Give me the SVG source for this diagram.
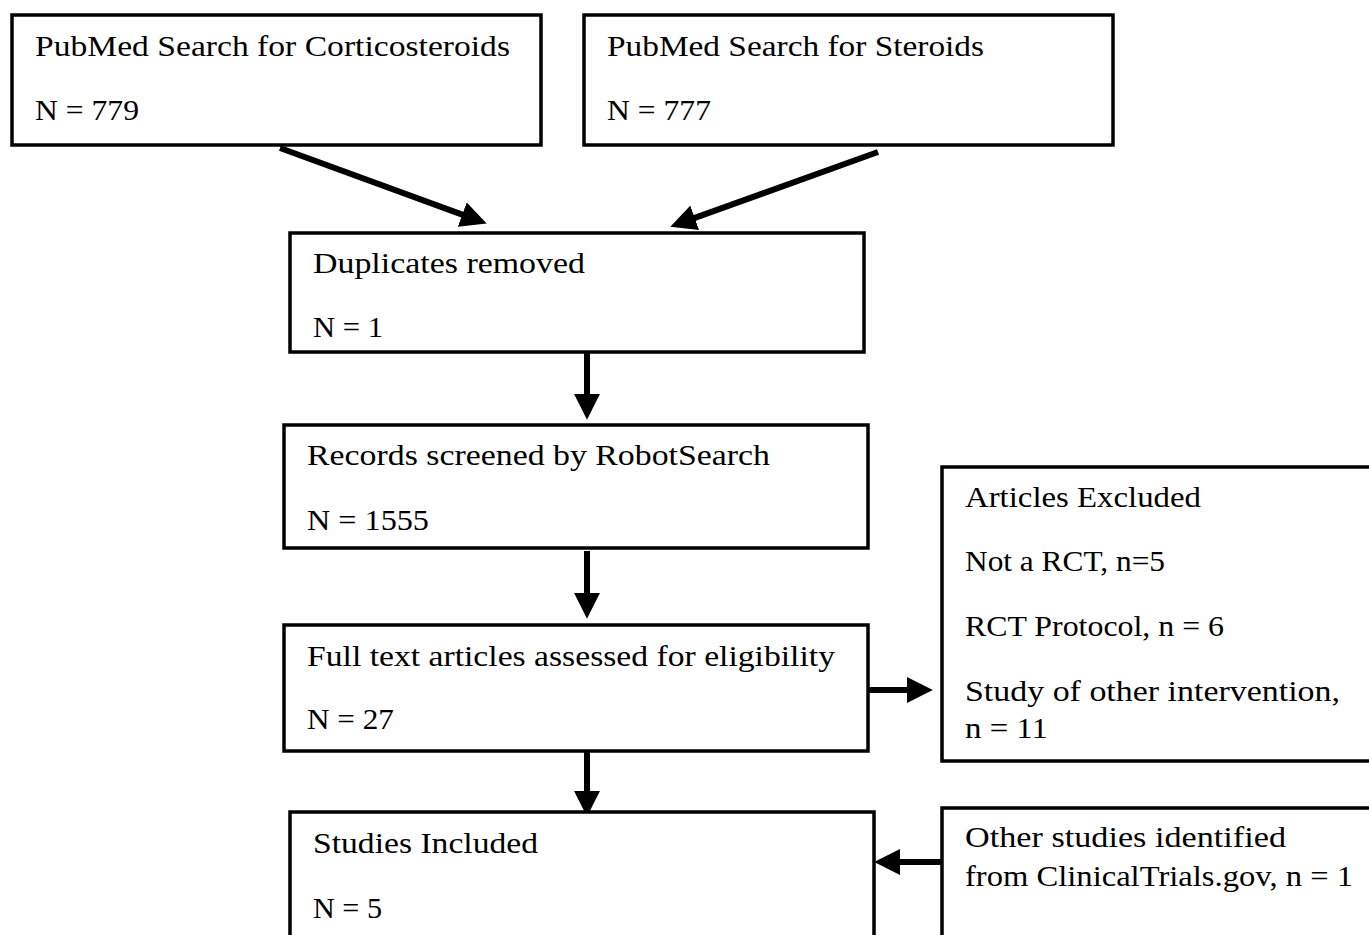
<svg xmlns="http://www.w3.org/2000/svg" width="1369" height="935" viewBox="0 0 1369 935">
<defs>
<style>
.box{fill:#fff;stroke:#000;stroke-width:3.5}
.t{font-family:"Liberation Serif","Times New Roman",serif;font-size:29px;fill:#000}
.c{stroke:#000;stroke-width:6;fill:none}
</style>
<marker id="ah" markerUnits="userSpaceOnUse" markerWidth="26" markerHeight="26" refX="2" refY="12" orient="auto" viewBox="0 0 24 24">
<path d="M0,0 L24,12 L0,24 Z" fill="#000"/>
</marker>
</defs>
<rect width="1369" height="935" fill="#fff"/>
<g id="connectors">
<line class="c" x1="280" y1="148" x2="464.3" y2="215.4" marker-end="url(#ah)"/>
<line class="c" x1="878" y1="152" x2="692.7" y2="218.6" marker-end="url(#ah)"/>
<line class="c" x1="587" y1="353" x2="587" y2="396" marker-end="url(#ah)"/>
<line class="c" x1="587" y1="551" x2="587" y2="595" marker-end="url(#ah)"/>
<line class="c" x1="587" y1="752" x2="587" y2="793" marker-end="url(#ah)"/>
<line class="c" x1="868" y1="690" x2="909" y2="690" marker-end="url(#ah)"/>
<line class="c" x1="943" y1="862" x2="898" y2="862" marker-end="url(#ah)"/>
</g>
<g id="n1">
<rect class="box" x="12" y="15" width="529" height="130"/>
<text class="t" x="35" y="56" textLength="475" lengthAdjust="spacingAndGlyphs">PubMed Search for Corticosteroids</text>
<text class="t" x="35" y="120" textLength="104" lengthAdjust="spacingAndGlyphs">N = 779</text>
</g>
<g id="n2">
<rect class="box" x="584" y="15" width="529" height="130"/>
<text class="t" x="607" y="56" textLength="377" lengthAdjust="spacingAndGlyphs">PubMed Search for Steroids</text>
<text class="t" x="607" y="120" textLength="104" lengthAdjust="spacingAndGlyphs">N = 777</text>
</g>
<g id="n3">
<rect class="box" x="290" y="233" width="574" height="119"/>
<text class="t" x="313" y="273" textLength="272" lengthAdjust="spacingAndGlyphs">Duplicates removed</text>
<text class="t" x="313" y="337" textLength="70" lengthAdjust="spacingAndGlyphs">N = 1</text>
</g>
<g id="n4">
<rect class="box" x="284" y="425" width="584" height="123"/>
<text class="t" x="307" y="465" textLength="463" lengthAdjust="spacingAndGlyphs">Records screened by RobotSearch</text>
<text class="t" x="307" y="530" textLength="122" lengthAdjust="spacingAndGlyphs">N = 1555</text>
</g>
<g id="n5">
<rect class="box" x="284" y="625" width="584" height="126"/>
<text class="t" x="307" y="666" textLength="528" lengthAdjust="spacingAndGlyphs">Full text articles assessed for eligibility</text>
<text class="t" x="307" y="729" textLength="87" lengthAdjust="spacingAndGlyphs">N = 27</text>
</g>
<g id="n6">
<rect class="box" x="942" y="467" width="440" height="294"/>
<text class="t" x="965" y="507" textLength="236" lengthAdjust="spacingAndGlyphs">Articles Excluded</text>
<text class="t" x="965" y="571" textLength="200" lengthAdjust="spacingAndGlyphs">Not a RCT, n=5</text>
<text class="t" x="965" y="636" textLength="259" lengthAdjust="spacingAndGlyphs">RCT Protocol, n = 6</text>
<text class="t" x="965" y="701" textLength="375" lengthAdjust="spacingAndGlyphs">Study of other intervention,</text>
<text class="t" x="965" y="738" textLength="83" lengthAdjust="spacingAndGlyphs">n = 11</text>
</g>
<g id="n7">
<rect class="box" x="290" y="812" width="584" height="140"/>
<text class="t" x="313" y="853" textLength="225" lengthAdjust="spacingAndGlyphs">Studies Included</text>
<text class="t" x="313" y="918" textLength="69" lengthAdjust="spacingAndGlyphs">N = 5</text>
</g>
<g id="n8">
<rect class="box" x="942" y="808" width="440" height="144"/>
<text class="t" x="965" y="847" textLength="321" lengthAdjust="spacingAndGlyphs">Other studies identified</text>
<text class="t" x="965" y="886" textLength="388" lengthAdjust="spacingAndGlyphs">from ClinicalTrials.gov, n = 1</text>
</g>
</svg>
